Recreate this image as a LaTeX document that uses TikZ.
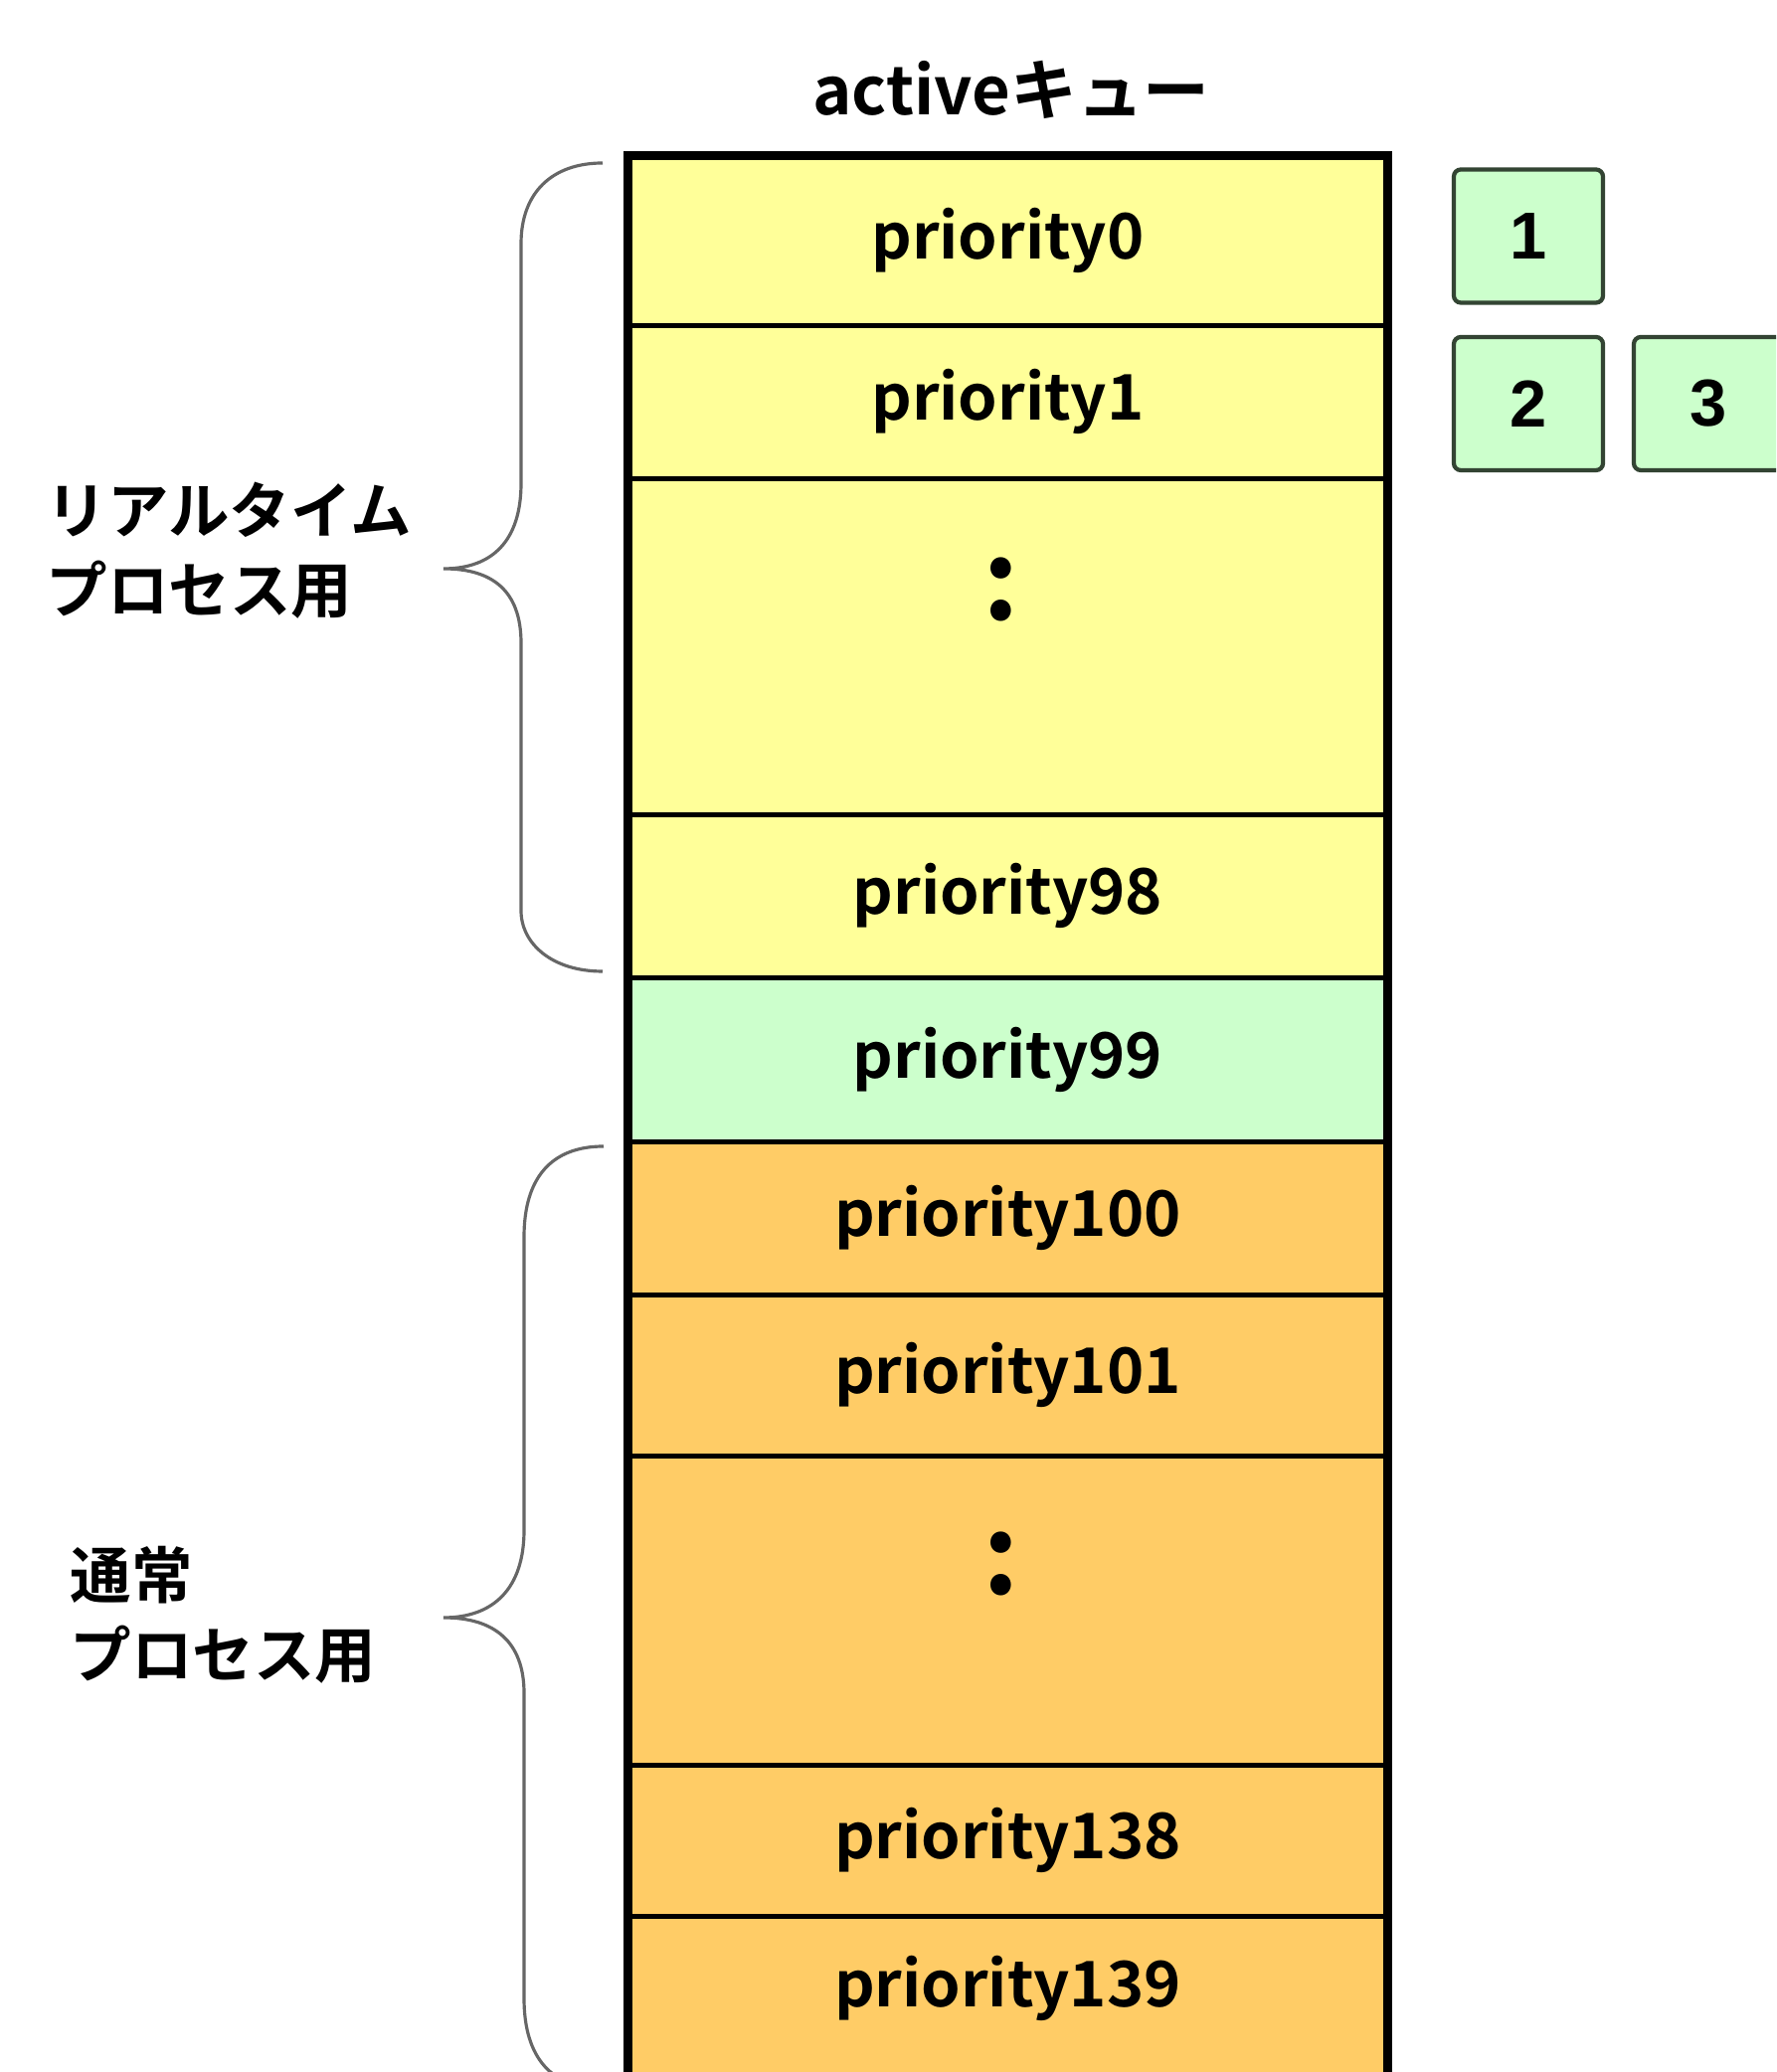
\documentclass[tikz,border=0pt]{standalone}
\usepackage{fontspec}
\newfontfamily\jpfont{Noto Sans CJK JP Bold}
\newfontfamily\numfont{Liberation Sans}
\definecolor{rtyellow}{HTML}{FFFF99}
\definecolor{midgreen}{HTML}{CCFFCC}
\definecolor{normorange}{HTML}{FFCC66}
\definecolor{boxline}{HTML}{334433}
\definecolor{braceline}{HTML}{666666}

\begin{document}
\begin{tikzpicture}[
    qrow/.style={fill=#1, draw=none, minimum width=7.63cm, inner sep=0pt, font=\jpfont\fontsize{18}{22}\selectfont},
    taskbox/.style={draw=boxline, fill=midgreen, line width=1.2pt, rounded corners=2pt, minimum width=1.5cm, minimum height=1.34cm, inner sep=0pt, font=\numfont\bfseries\fontsize{19}{22}\selectfont},
    brace/.style={draw=braceline, line width=0.9pt},
    sep/.style={line width=1.3pt},
    sidelabel/.style={anchor=west, align=left, inner sep=0pt, font=\jpfont\fontsize{17.5}{22.8}\selectfont},
    dots/.style={inner sep=0pt, font=\jpfont\fontsize{32}{36}\selectfont}
  ]
  \useasboundingbox (0,0) rectangle (17.86,20.84);
  \clip (0,0) rectangle (17.86,20.84);

  % キューの各段
  \node[qrow=rtyellow, minimum height=1.70cm] (p0) at (10.135,18.42) {priority0};
  \node[qrow=rtyellow, minimum height=1.54cm] (p1) at (10.135,16.80) {priority1};
  \node[qrow=rtyellow, minimum height=3.38cm] (rtgap) at (10.135,14.34) {};
  \node[qrow=rtyellow, minimum height=1.64cm] (p98) at (10.135,11.83) {priority98};
  \node[qrow=midgreen, minimum height=1.65cm] (p99) at (10.135,10.185) {priority99};
  \node[qrow=normorange, minimum height=1.54cm] (p100) at (10.135,8.59) {priority100};
  \node[qrow=normorange, minimum height=1.62cm] (p101) at (10.135,7.01) {priority101};
  \node[qrow=normorange, minimum height=3.11cm] (nmgap) at (10.135,4.645) {};
  \node[qrow=normorange, minimum height=1.88cm] (p139) at (10.135,0.84) {priority139};
  \node[qrow=normorange, minimum height=1.52cm] (p138) at (10.135,2.33) {priority138};

  % 省略記号
  \node[dots] (dots1) at (10.07,14.915) {:};
  \node[dots] (dots2) at (10.07,5.11) {:};

  % 段の区切り線
  \draw[sep] (p0.south west) -- (p0.south east)
             (p1.south west) -- (p1.south east)
             (rtgap.south west) -- (rtgap.south east)
             (p98.south west) -- (p98.south east)
             (p99.south west) -- (p99.south east)
             (p100.south west) -- (p100.south east)
             (p101.south west) -- (p101.south east)
             (nmgap.south west) -- (nmgap.south east)
             (p138.south west) -- (p138.south east);

  % 外枠
  \draw[line width=2.6pt] (p139.south west) -- (p0.north west) -- (p0.north east) -- (p139.south east);

  \node[font=\jpfont\fontsize{19}{22}\selectfont] (title) at (10.17,19.94) {activeキュー};

  % タスク
  \node[taskbox] (t1) at (15.37,18.465) {1};
  \node[taskbox] (t2) at (15.37,16.78) {2};
  \node[taskbox] (t3) at (17.18,16.78) {3};

  % 括弧と説明
  \draw[brace] (6.06,19.20) .. controls (5.55,19.20) and (5.24,18.90) .. (5.24,18.39)
    -- (5.24,15.98) .. controls (5.24,15.40) and (4.95,15.12) .. (4.46,15.12)
    .. controls (4.95,15.12) and (5.24,14.90) .. (5.24,14.37)
    -- (5.24,11.68) .. controls (5.24,11.35) and (5.55,11.07) .. (6.06,11.07);
  \draw[brace] (6.07,9.31) .. controls (5.55,9.31) and (5.27,9.00) .. (5.27,8.40)
    -- (5.27,5.45) .. controls (5.27,4.87) and (4.97,4.57) .. (4.46,4.57)
    .. controls (4.97,4.57) and (5.27,4.33) .. (5.27,3.81)
    -- (5.27,0.74) .. controls (5.27,0.14) and (5.55,-0.17) .. (6.07,-0.17);

  \node[sidelabel] (rtlabel) at (0.46,15.30) {リアルタイム\\プロセス用};
  \node[sidelabel] (nmlabel) at (0.70,4.60) {通常\\プロセス用};
\end{tikzpicture}
\end{document}
